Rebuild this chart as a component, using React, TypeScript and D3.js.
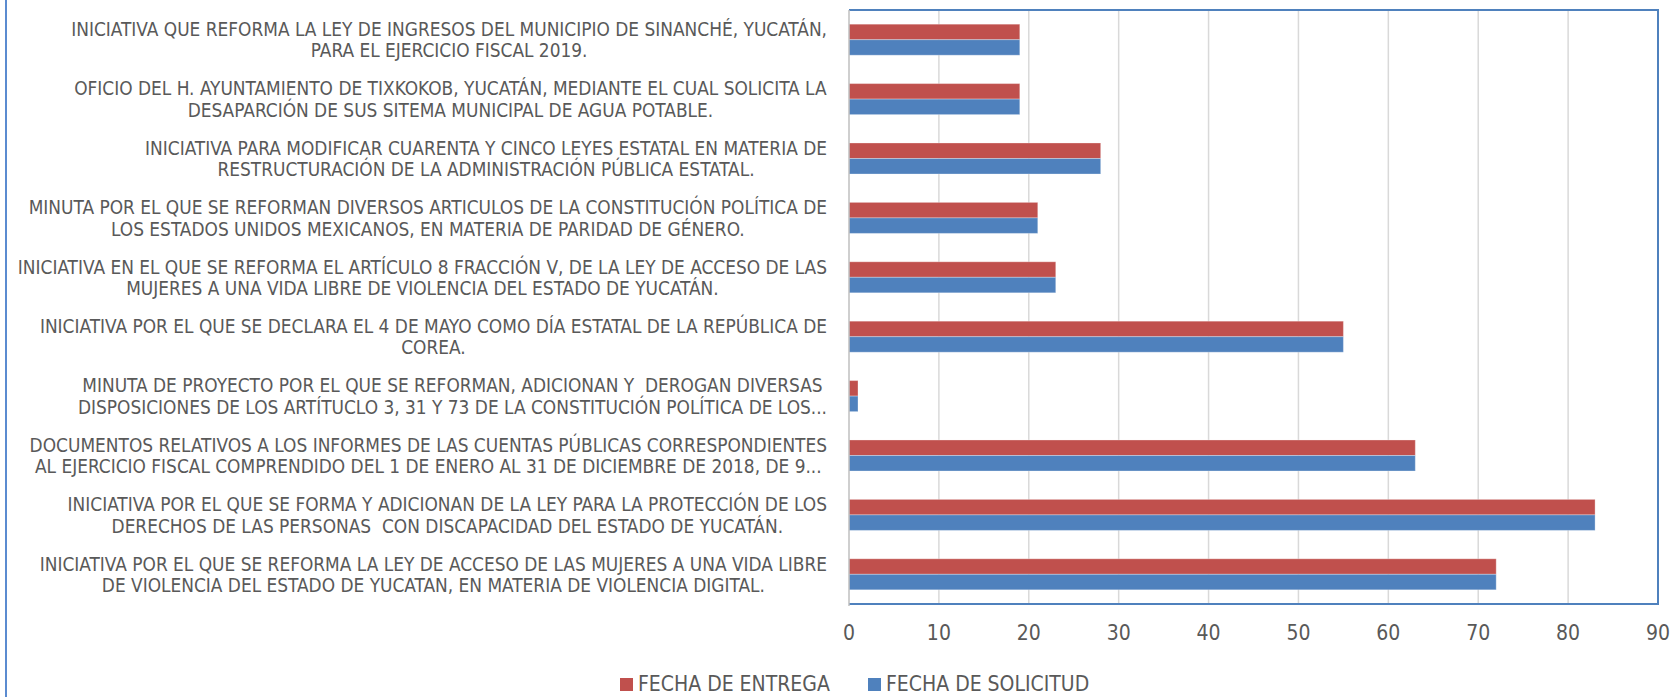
import React, { useEffect, useRef } from "react";
import * as d3 from "d3";

// Category labels (top to bottom), each split into the lines shown
const categories: string[][] = [
  ["INICIATIVA QUE REFORMA LA LEY DE INGRESOS DEL MUNICIPIO DE SINANCHÉ, YUCATÁN,", "PARA EL EJERCICIO FISCAL 2019."],
  ["OFICIO DEL H. AYUNTAMIENTO DE TIXKOKOB, YUCATÁN, MEDIANTE EL CUAL SOLICITA LA", "DESAPARCIÓN DE SUS SITEMA MUNICIPAL DE AGUA POTABLE."],
  ["INICIATIVA PARA MODIFICAR CUARENTA Y CINCO LEYES ESTATAL EN MATERIA DE", "RESTRUCTURACIÓN DE LA ADMINISTRACIÓN PÚBLICA ESTATAL."],
  ["MINUTA POR EL QUE SE REFORMAN DIVERSOS ARTICULOS DE LA CONSTITUCIÓN POLÍTICA DE", "LOS ESTADOS UNIDOS MEXICANOS, EN MATERIA DE PARIDAD DE GÉNERO."],
  ["INICIATIVA EN EL QUE SE REFORMA EL ARTÍCULO 8 FRACCIÓN V, DE LA LEY DE ACCESO DE LAS", "MUJERES A UNA VIDA LIBRE DE VIOLENCIA DEL ESTADO DE YUCATÁN."],
  ["INICIATIVA POR EL QUE SE DECLARA EL 4 DE MAYO COMO DÍA ESTATAL DE LA REPÚBLICA DE", "COREA."],
  ["MINUTA DE PROYECTO POR EL QUE SE REFORMAN, ADICIONAN Y  DEROGAN DIVERSAS", "DISPOSICIONES DE LOS ARTÍTUCLO 3, 31 Y 73 DE LA CONSTITUCIÓN POLÍTICA DE LOS..."],
  ["DOCUMENTOS RELATIVOS A LOS INFORMES DE LAS CUENTAS PÚBLICAS CORRESPONDIENTES", "AL EJERCICIO FISCAL COMPRENDIDO DEL 1 DE ENERO AL 31 DE DICIEMBRE DE 2018, DE 9..."],
  ["INICIATIVA POR EL QUE SE FORMA Y ADICIONAN DE LA LEY PARA LA PROTECCIÓN DE LOS", "DERECHOS DE LAS PERSONAS  CON DISCAPACIDAD DEL ESTADO DE YUCATÁN."],
  ["INICIATIVA POR EL QUE SE REFORMA LA LEY DE ACCESO DE LAS MUJERES A UNA VIDA LIBRE", "DE VIOLENCIA DEL ESTADO DE YUCATAN, EN MATERIA DE VIOLENCIA DIGITAL."],
];

const fechaEntrega = [19, 19, 28, 21, 23, 55, 1, 63, 83, 72];
const fechaSolicitud = [19, 19, 28, 21, 23, 55, 1, 63, 83, 72];

const xTicks = [0, 10, 20, 30, 40, 50, 60, 70, 80, 90];
const seriesNames = ["FECHA DE ENTREGA", "FECHA DE SOLICITUD"];
const seriesColors = ["#C0504D", "#4F81BD"];

// layout
const width = 1677;
const height = 697;
const plotLeft = 849;
const plotRight = 1658;
const plotTop = 10;
const plotBottom = 604;
const labelRight = 827;
const textColor = "#595959";
const fontStack = "'Liberation Sans Narrow', 'DejaVu Sans Condensed', Roboto, sans-serif";

const App: React.FC = () => {
  const svgRef = useRef<SVGSVGElement>(null);

  useEffect(() => {
    if (!svgRef.current) return;
    const svg = d3.select(svgRef.current);
    svg.selectAll("*").remove();

    const x = d3.scaleLinear().domain([0, 90]).range([plotLeft, plotRight]);

    // Excel-like gap width ~183%
    const gap = 1.83 / 3.83;
    const y = d3
      .scaleBand<number>()
      .domain(d3.range(categories.length))
      .range([plotTop, plotBottom])
      .paddingInner(gap)
      .paddingOuter(gap / 2);

    const ySub = d3
      .scaleBand<number>()
      .domain([0, 1])
      .range([0, y.bandwidth()]);

    const values = [fechaEntrega, fechaSolicitud];

    // outer chart border (left edge visible)
    svg
      .append("line")
      .attr("x1", 6)
      .attr("x2", 6)
      .attr("y1", 0)
      .attr("y2", height)
      .attr("stroke", "#5B8BD0")
      .attr("stroke-width", 2);

    // vertical gridlines
    svg
      .append("g")
      .selectAll("line")
      .data(xTicks.slice(1))
      .join("line")
      .attr("x1", (d) => x(d))
      .attr("x2", (d) => x(d))
      .attr("y1", plotTop)
      .attr("y2", plotBottom)
      .attr("stroke", "#D9D9D9")
      .attr("stroke-width", 1.5);

    // bars
    values.forEach((vals, s) => {
      svg
        .append("g")
        .selectAll("rect")
        .data(vals)
        .join("rect")
        .attr("x", x(0))
        .attr("y", (d, i) => (y(i) || 0) + (ySub(s) || 0))
        .attr("width", (d) => x(d) - x(0))
        .attr("height", ySub.bandwidth())
        .attr("fill", seriesColors[s])
        .attr("stroke", "rgba(255,255,255,0.3)")
        .attr("stroke-width", 1);
    });

    // plot border: top, right, bottom in blue
    svg
      .append("path")
      .attr(
        "d",
        `M${plotLeft},${plotTop}H${plotRight}V${plotBottom}H${plotLeft}`
      )
      .attr("fill", "none")
      .attr("stroke", "#4F81BD")
      .attr("stroke-width", 2);

    // category axis line
    svg
      .append("line")
      .attr("x1", plotLeft)
      .attr("x2", plotLeft)
      .attr("y1", plotTop)
      .attr("y2", plotBottom + 2)
      .attr("stroke", "#BFBFBF")
      .attr("stroke-width", 1.5);

    // value axis tick labels
    svg
      .append("g")
      .selectAll("text")
      .data(xTicks)
      .join("text")
      .attr("x", (d) => x(d))
      .attr("y", 633)
      .attr("text-anchor", "middle")
      .attr("dominant-baseline", "central")
      .attr("font-family", fontStack)
      .attr("font-size", 21)
      .attr("fill", textColor)
      .text((d) => d);

    // category labels: lines centred, block right-aligned
    const lineGap = 21.4;
    categories.forEach((lines, i) => {
      const cy = (y(i) || 0) + y.bandwidth() / 2;
      const g = svg.append("g");
      g.selectAll("text")
        .data(lines)
        .join("text")
        .attr("x", 0)
        .attr("y", (d, k) => cy + (k - (lines.length - 1) / 2) * lineGap)
        .attr("text-anchor", "middle")
        .attr("dominant-baseline", "central")
        .attr("font-family", fontStack)
        .attr("font-size", 18.9)
        .attr("fill", textColor)
        .style("white-space", "pre")
        .text((d) => d);
      const bb = (g.node() as SVGGElement).getBBox();
      g.attr("transform", `translate(${labelRight - (bb.x + bb.width)},0)`);
    });

    // legend
    const legend = svg.append("g");
    const legendX = [620, 868];
    seriesNames.forEach((name, s) => {
      legend
        .append("rect")
        .attr("x", legendX[s])
        .attr("y", 678)
        .attr("width", 13)
        .attr("height", 13)
        .attr("fill", seriesColors[s]);
      legend
        .append("text")
        .attr("x", legendX[s] + 18)
        .attr("y", 684)
        .attr("dominant-baseline", "central")
        .attr("font-family", fontStack)
        .attr("font-size", 21)
        .attr("fill", textColor)
        .text(name);
    });
  }, []);

  return (
    <svg
      ref={svgRef}
      width={width}
      height={height}
      style={{ position: "absolute", left: 0, top: 0, background: "#fff" }}
    />
  );
};

export default App;
